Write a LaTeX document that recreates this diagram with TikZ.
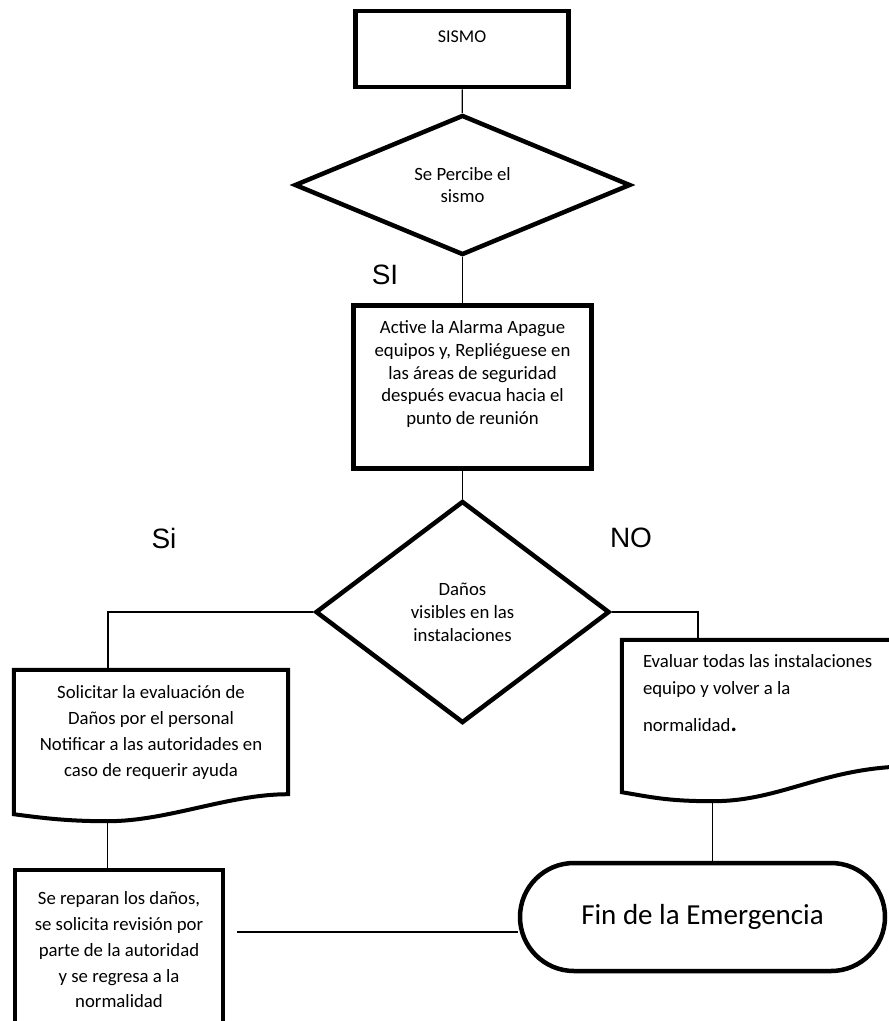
\documentclass[tikz,border=0pt]{standalone}
\usepackage{fontspec}
\setmainfont{Carlito}
\newfontfamily\arialfont{Liberation Sans}
\usepackage{tikz}
\usetikzlibrary{shapes.geometric,calc}
\tikzset{
    %Define style for boxes
    proceso/.style={
           rectangle,
           draw=black, line width=4.5pt,
           inner sep=0pt,
           font=\fontsize{18.75}{22.75}\selectfont,
           align=center},
    decision/.style={
           diamond,
           draw=black, line width=4.5pt,
           inner sep=0pt,
           font=\fontsize{18.75}{22.5}\selectfont,
           align=center},
    documento/.style={
           rectangle,
           inner sep=0pt,
           font=\fontsize{18.75}{26}\selectfont},
    terminal/.style={
           rectangle,
           rounded corners=54pt,
           draw=black, line width=4.5pt,
           font=\fontsize{29}{34}\selectfont},
    etiqueta/.style={
           font=\arialfont\fontsize{28}{32}\selectfont},
    % Define line styles
    borde/.style={
           line width=4pt},
    enlace/.style={
           line width=1.3pt}
}

\begin{document}
\begin{tikzpicture}[x=1pt,y=-1pt]
\useasboundingbox (0,0) rectangle (889,1021);
\clip (0,0) rectangle (889,1021);
 %nodes
\node[proceso, minimum width=213pt, minimum height=76pt, text depth=24pt, font=\fontsize{18}{22}\selectfont] (sismo) at (462,49) {SISMO};
\node[decision, minimum width=336pt, minimum height=140pt, shape aspect=2.4, font=\fontsize{18.75}{22}\selectfont] (percibe) at (462.5,185) {Se Percibe el\\sismo};
\node[etiqueta] (lsi) at (385,275) {SI};
\node[proceso, minimum width=238pt, minimum height=163pt, text depth=29pt] (alarma) at (472.5,387) {Active la Alarma Apague\\equipos y, Repliéguese en\\las áreas de seguridad\\después evacua hacia el\\punto de reunión};
\node[decision, minimum width=294pt, minimum height=222pt, shape aspect=1.3, font=\fontsize{18.75}{23}\selectfont] (danos) at (462.5,612) {Daños\\visibles en las\\instalaciones};
\node[etiqueta] (lsi2) at (164,538) {Si};
\node[etiqueta] (lno) at (631,538) {NO};
\node[documento, minimum width=274pt, minimum height=124pt, align=center] (solicitar) at (151,732) {Solicitar la evaluación de\\Daños por el personal\\Notificar a las autoridades en\\caso de requerir ayuda};
\node[documento, minimum width=292pt, minimum height=106pt, text width=250pt, align=flush left, font=\fontsize{18.75}{27}\selectfont] (evaluar) at (768,693) {Evaluar todas las instalaciones\\equipo y volver a la\\[10pt]normalidad{\fontsize{24}{24}\selectfont\textbf{.}}};
\node[proceso, minimum width=208pt, minimum height=160pt, font=\fontsize{18.75}{25.75}\selectfont] (reparar) at (119,950) {Se reparan los daños,\\se solicita revisión por\\parte de la autoridad\\y se regresa a la\\normalidad};
\node[terminal, minimum width=365pt, minimum height=108pt] (fin) at (702.5,917) {Fin de la Emergencia};
 %document outlines
\draw[borde] ($(solicitar.south west)+(0,20)$) -- (solicitar.north west) -- (solicitar.north east) -- (solicitar.south east)
   .. controls +(-60,0) and +(60,0) .. ($(solicitar.south west)+(94,27)$) coordinate (ondaA)
   .. controls +(-40,0) and +(30,4) .. ($(solicitar.south west)+(0,20)$) -- cycle;
\draw[borde] ($(evaluar.south west)+(0,46)$) -- (evaluar.north west) -- (evaluar.north east) -- ($(evaluar.south east)+(0,20)$)
   .. controls +(-90,0) and +(70,0) .. ($(evaluar.south west)+(91,55)$) coordinate (ondaB)
   .. controls +(-45,0) and +(30,5) .. ($(evaluar.south west)+(0,46)$) -- cycle;
 %connectors
\coordinate (finin) at ([yshift=-15pt]fin.west);
\draw[enlace] (sismo) -- (percibe);
\draw[enlace] (percibe.south) -- (percibe.south |- alarma.north);
\draw[enlace] (alarma.south -| danos.north) -- (danos.north);
\draw[enlace] (danos.west) -| ([xshift=-43pt]solicitar.north);
\draw[enlace] (danos.east) -| ([xshift=-70pt]evaluar.north);
\draw[enlace] (ondaA) -- (ondaA |- reparar.north);
\draw[enlace] (ondaB) -- (ondaB |- fin.north);
\draw[enlace, shorten <=12pt] (finin -| reparar.east) -- (finin);
\end{tikzpicture}
\end{document}
